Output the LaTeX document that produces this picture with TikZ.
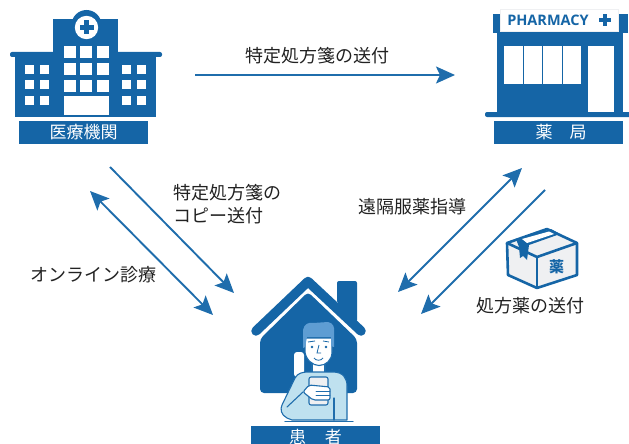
\documentclass[tikz,border=0pt]{standalone}
\usepackage{fontspec}
\setmainfont{Noto Sans CJK JP}
\newfontfamily\latinfont{Open Sans}
\definecolor{mcblue}{HTML}{1565A6}
\definecolor{mcarrow}{HTML}{1F6DAC}
\definecolor{mcskin}{HTML}{BFE1EF}
\definecolor{mchair}{HTML}{5E9DD3}
\definecolor{mcbox}{HTML}{EFF0F2}
\definecolor{mctext}{HTML}{222222}
\usetikzlibrary{arrows.meta}
\tikzset{
    namebox/.style={rectangle, fill=mcblue, text=white, minimum width=129pt, minimum height=23pt, inner sep=0pt, font=\fontsize{17}{17}\selectfont},
    flowtext/.style={text=mctext, inner sep=0pt, align=left, font=\fontsize{18}{23}\selectfont},
    flow/.style={-{Stealth[length=19pt,width=17pt,inset=4pt]}, mcarrow, line width=1.9pt},
    flowboth/.style={{Stealth[length=19pt,width=17pt,inset=4pt]}-{Stealth[length=19pt,width=17pt,inset=4pt]}, mcarrow, line width=1.9pt},
    person/.style={draw=mcarrow, line width=1.1pt, line join=round, line cap=round}
}
\begin{document}
\begin{tikzpicture}[x=1pt,y=-1pt]
    \useasboundingbox (0,0) rectangle (629,444);

    % hospital
    \fill[mcblue, rounded corners=2pt] (10,52) rectangle (162,57);
    \fill[mcblue] (15,55) rectangle (156,117);
    \fill[mcblue] (53,19) rectangle (118,117);
    \fill[mcblue] (86.5,25) circle (15);
    \fill[white] (86.5,27.5) circle (11.7);
    \fill[mcblue] (84,20.5) rectangle (89,34.5);
    \fill[mcblue] (79.5,25) rectangle (93.5,30);
    \foreach \x in {64,80,97}
        \foreach \y in {46,63,80}
            \fill[white] (\x,\y) rectangle ++(12,12);
    \fill[white] (64,96) rectangle (109,115);
    \foreach \x in {25,40,122,137}
        \foreach \y in {65,80,96}
            \fill[white] (\x,\y) rectangle ++(9,9);
    \node[namebox] (clinic) at (83.5,132.5) {医療機関};

    % pharmacy
    \fill[mcblue] (493,14) rectangle (628,33);
    \fill[mcblue] (497,30) rectangle (623,114);
    \fill[white, draw=mcbox] (500,9) rectangle (618,31);
    \node[inner sep=0pt, text=mcblue, font=\latinfont\bfseries\fontsize{14.5}{15}\selectfont] (shopsign) at (548,20) {PHARMACY};
    \fill[mcblue] (603,14) rectangle (607,26);
    \fill[mcblue] (599,18) rectangle (611,22);
    \foreach \x/\w in {504/18.5,524/18,543/18.5,563/18}
        \fill[white] (\x,46) rectangle ++(\w,38);
    \fill[white] (588,46) rectangle (614,112);
    \fill[mcblue, rounded corners=2pt] (485,112) rectangle (632,117);
    \node[namebox] (shop) at (558.5,132.5) {\hspace*{5pt}薬\hspace{1em}局};

    % patient at home
    \fill[mcblue, rounded corners=2pt] (337,303) -- (337,281) -- (357,281) -- (357,322) -- cycle;
    \fill[mcblue, rounded corners=4pt] (308,292) -- (357,339) -- (357,393) -- (260,393) -- (260,339) -- cycle;
    \draw[mcblue, line width=9.5pt, line cap=round, line join=round] (256,331) -- (308,281.5) -- (361,331);
    \fill[white, rounded corners=3pt] (294,352) rectangle (304,377);
    \draw[person, fill=white] (312,360) rectangle (325,376);
    \draw[person, fill=mcskin] (292,420) -- (287,418) .. controls (281,415) and (280,409) .. (282,405)
        -- (295,378) .. controls (298,373) and (302,372) .. (309,372) -- (333,372)
        .. controls (343,372) and (347,378) .. (347,386) -- (347,420) -- cycle;
    \draw[person] (334,398) -- (334,420);
    \draw[person] (287,407) -- (303,392);
    \draw[person] (285,421.5) -- (353,421.5);
    \draw[person, fill=mcbox, rounded corners=2pt] (309,377) rectangle (328,405);
    \draw[person, fill=white, rounded corners=2pt] (303,392) -- (309,385) -- (330,387) -- (330,400) -- (313,400) -- cycle;
    \foreach \y in {391,395}
        \draw[person, line width=0.8pt] (316,\y) -- (330,\y);
    \draw[person, fill=white] (305,338) -- (305,352) .. controls (306,360) and (313,365.5) .. (319,365.5)
        .. controls (326,365.5) and (332,360) .. (332,352) -- (332,338) -- cycle;
    \fill[mchair] (303,348) -- (303,330) .. controls (304,324) and (309,322) .. (313,323)
        -- (328,322) .. controls (333,323) and (335,327) .. (334,333) -- (334,347) -- (331,346)
        -- (331,337) -- (307,337) -- (305,347) -- cycle;
    \fill[mcblue] (312,347) circle (1.3);
    \fill[mcblue] (326,347) circle (1.3);
    \draw[mcblue, line width=0.8pt] (308,342) -- (315,341);
    \draw[mcblue, line width=0.8pt] (323,341) -- (329,342);
    \draw[mcblue, line width=0.8pt] (319,345) -- (317,353) -- (321,353);
    \draw[mcblue, line width=0.8pt] (314,358) .. controls (316,361) and (321,361) .. (323,358);
    \node[namebox] (patient) at (315.5,437.5) {患\hspace{1.1em}者};

    % parcel
    \draw[mcblue, line width=2.6pt, line join=round, fill=mcbox] (507,243) -- (547,229) -- (577,243) -- (577,275) -- (537,288) -- (508,275) -- cycle;
    \draw[mcblue, line width=2.6pt, line join=round] (507,243) -- (537,257) -- (577,243);
    \draw[mcblue, line width=2.6pt] (537,257) -- (537,288);
    \fill[mcblue] (516,239) -- (551,229) -- (560,234) -- (529,245) -- (527,260) -- (523,256) -- (520,258) -- (519,247) -- cycle;
    \fill[white] (522,239) -- (549,231.5) -- (554,234) -- (527,243) -- cycle;
    \node[inner sep=0pt, text=mcblue, font=\bfseries\fontsize{15}{15}\selectfont] (drug) at (556.5,267) {薬};

    % flows
    \coordinate (a1) at (195,75);
    \coordinate (a2) at (455,75);
    \coordinate (b1) at (110,167);
    \coordinate (b2) at (234,293);
    \coordinate (c1) at (213,315);
    \coordinate (c2) at (90,191);
    \coordinate (d1) at (398,292);
    \coordinate (d2) at (522,168);
    \coordinate (e1) at (545,190);
    \coordinate (e2) at (421,314);
    \draw[flow] (a1) -- (a2);
    \draw[flow] (b1) -- (b2);
    \draw[flowboth] (c1) -- (c2);
    \draw[flowboth] (d1) -- (d2);
    \draw[flow] (e1) -- (e2);

    \node[flowtext] (send) at (317,56) {特定処方箋の送付};
    \node[flowtext] (copy) at (227,204) {特定処方箋の\\コピー送付};
    \node[flowtext] (online) at (93.5,275) {オンライン診療};
    \node[flowtext] (remote) at (412,207) {遠隔服薬指導};
    \node[flowtext] (parcelsend) at (530,306) {処方薬の送付};
\end{tikzpicture}
\end{document}
